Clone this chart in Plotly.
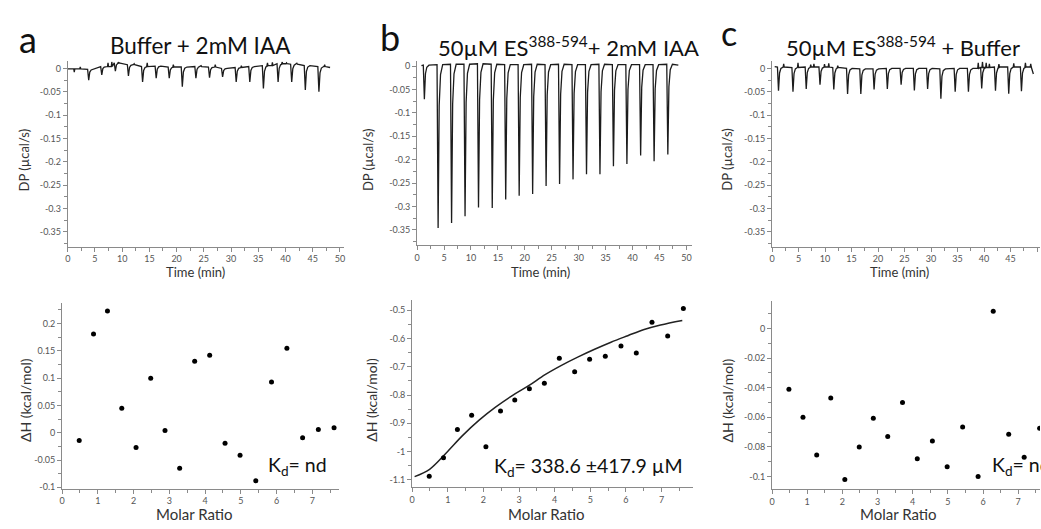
import plotly.graph_objects as go

W, H = 1041, 529
FONT = "Lato"

# ---------------- Data ----------------
# Thermogram a: Buffer + 2mM IAA
inj_a_time = [3.7, 6.1, 8.6, 11.0, 13.6, 16.1, 18.5, 20.9, 23.4, 25.9, 28.3, 30.8, 33.3, 35.8, 38.5, 41.0, 43.5, 46.0]
inj_a_depth = [-0.025, -0.014, -0.006, -0.016, -0.029, -0.021, -0.021, -0.039, -0.021, -0.020, -0.018, -0.029, -0.029, -0.043, -0.029, -0.029, -0.046, -0.050]
inj_a_base = [-0.002, 0.004, 0.012, 0.008, 0.004, 0.005, 0.003, 0.003, 0.004, 0.003, 0.000, 0.002, 0.004, 0.006, 0.010, 0.009, 0.006, 0.004]
noise_a_time = [1.2, 2.3, 7.4, 8.1, 9.3, 12.2, 14.6, 19.4, 24.5, 27.1, 31.9, 36.7, 37.6, 39.4, 40.2, 42.1, 47.2]
noise_a_val = [-0.008, 0.003, 0.012, 0.014, 0.013, 0.010, 0.012, 0.008, 0.006, 0.008, 0.006, 0.012, 0.013, 0.014, 0.012, 0.011, 0.008]
run_a = [0.0, 48.2]
run_a_base = [-0.001, 0.002]

# Thermogram b: 50uM ES + 2mM IAA
inj_b_time = [1.2, 3.75, 6.25, 8.75, 11.25, 13.8, 16.3, 18.8, 21.3, 23.8, 26.3, 28.8, 31.3, 33.8, 36.3, 38.8, 41.35, 43.85, 46.4]
inj_b_depth = [-0.071, -0.346, -0.335, -0.321, -0.302, -0.303, -0.285, -0.277, -0.273, -0.256, -0.252, -0.242, -0.231, -0.231, -0.214, -0.209, -0.191, -0.203, -0.189]
inj_b_base = [0.002, 0.003, 0.004, 0.004, 0.005, 0.004, 0.003, 0.003, 0.004, 0.003, 0.004, 0.003, 0.003, 0.004, 0.003, 0.003, 0.003, 0.003, 0.004]
run_b = [0.8, 48.5]
run_b_base = [0.001, 0.002]

# Thermogram c: 50uM ES + Buffer
inj_c_time = [1.07, 3.8, 6.3, 8.9, 11.5, 14.1, 16.6, 19.1, 21.6, 24.2, 26.7, 29.2, 31.7, 34.4, 36.9, 39.4, 42.0, 44.5, 46.9]
inj_c_depth = [-0.048, -0.050, -0.044, -0.035, -0.045, -0.055, -0.055, -0.045, -0.044, -0.035, -0.047, -0.044, -0.065, -0.050, -0.050, -0.043, -0.048, -0.054, -0.049]
inj_c_base = [0.003, 0.002, 0.003, 0.003, 0.002, 0.0, -0.001, -0.001, 0.0, 0.0, 0.0, 0.0, -0.001, 0.0, 0.0, 0.002, 0.003, 0.003, 0.003]
noise_c_time = [2.2, 4.9, 7.3, 7.9, 9.9, 10.7, 12.4, 38.9, 39.7, 40.4, 41.0, 42.8, 45.6, 47.8, 48.8]
noise_c_val = [0.010, 0.012, 0.008, 0.010, 0.009, 0.011, 0.006, 0.012, 0.014, 0.012, 0.010, 0.009, 0.011, 0.012, 0.010]
run_c = [0.5, 49.3]
run_c_base = [0.004, -0.012]

# Isotherms
molar_ratio = [0.48, 0.88, 1.27, 1.67, 2.07, 2.48, 2.88, 3.29, 3.71, 4.13, 4.56, 4.98, 5.42, 5.86, 6.29, 6.73, 7.17, 7.61]
dh_a = [-0.014, 0.181, 0.223, 0.045, -0.027, 0.100, 0.004, -0.065, 0.131, 0.142, -0.019, -0.041, -0.088, 0.093, 0.155, -0.009, 0.006, 0.009]
dh_b = [-1.088, -1.022, -0.922, -0.872, -0.983, -0.857, -0.818, -0.778, -0.758, -0.670, -0.718, -0.673, -0.663, -0.626, -0.651, -0.542, -0.591, -0.494]
dh_c = [-0.041, -0.060, -0.0855, -0.047, -0.102, -0.080, -0.0607, -0.073, -0.050, -0.088, -0.076, -0.0935, -0.0665, -0.100, 0.0118, -0.0714, -0.087, -0.0674]
fit_x = [0.07, 0.49, 0.95, 1.42, 1.88, 2.34, 2.81, 3.27, 3.73, 4.19, 4.66, 5.12, 5.58, 6.05, 6.51, 6.97, 7.58]
fit_y = [-1.089, -1.063, -1.006, -0.943, -0.889, -0.843, -0.802, -0.767, -0.728, -0.695, -0.665, -0.638, -0.613, -0.590, -0.568, -0.552, -0.536]

dp_ticks = [0, -0.05, -0.1, -0.15, -0.2, -0.25, -0.3, -0.35]
dp_text = ["0", "-0.05", "-0.1", "-0.15", "-0.2", "-0.25", "-0.3", "-0.35"]
dha_ticks = [0.2, 0.15, 0.1, 0.05, 0, -0.05, -0.1]
dha_text = ["0.2", "0.15", "0.1", "0.05", "0", "-0.05", "-0.1"]
dhb_ticks = [-0.5, -0.6, -0.7, -0.8, -0.9, -1.0, -1.1]
dhb_text = ["-0.5", "-0.6", "-0.7", "-0.8", "-0.9", "-1", "-1.1"]
dhc_ticks = [0, -0.02, -0.04, -0.06, -0.08, -0.1]
dhc_text = ["0", "-0.02", "-0.04", "-0.06", "-0.08", "-0.1"]


def thermogram(times, depths, bases, run, run_base, extra_t=(), extra_v=()):
    events = [(t, d, b, True) for t, d, b in zip(times, depths, bases)]
    events += [(t, v, None, False) for t, v in zip(extra_t, extra_v)]
    events.sort(key=lambda e: e[0])
    xs, ys = [run[0]], [run_base[0]]
    last_b = run_base[0]
    for t, d, b, is_inj in events:
        if is_inj:
            xs += [t - 0.05, t + 0.15, t + 0.35, t + 0.6, t + 1.0]
            ys += [b, d, b + 0.25 * (d - b), b + 0.06 * (d - b), b]
            last_b = b
        else:
            xs += [t - 0.1, t, t + 0.1]
            ys += [last_b, d, last_b]
    xs.append(run[1])
    ys.append(run_base[1])
    return xs, ys


def px(p):
    return p / W


def py(p):
    return 1 - p / H


fig = go.Figure()
LINE = "#1c1c1c"

xa, ya = thermogram(inj_a_time, inj_a_depth, inj_a_base, run_a, run_a_base, noise_a_time, noise_a_val)
xb, yb = thermogram(inj_b_time, inj_b_depth, inj_b_base, run_b, run_b_base)
xc, yc = thermogram(inj_c_time, inj_c_depth, inj_c_base, run_c, run_c_base, noise_c_time, noise_c_val)

fig.add_trace(go.Scatter(x=xa, y=ya, mode="lines", line=dict(color=LINE, width=1.3), xaxis="x", yaxis="y", showlegend=False))
fig.add_trace(go.Scatter(x=xb, y=yb, mode="lines", line=dict(color=LINE, width=1.3), xaxis="x2", yaxis="y2", showlegend=False))
fig.add_trace(go.Scatter(x=xc, y=yc, mode="lines", line=dict(color=LINE, width=1.3), xaxis="x3", yaxis="y3", showlegend=False))

mk = dict(color="black", size=5)
fig.add_trace(go.Scatter(x=molar_ratio, y=dh_a, mode="markers", marker=mk, xaxis="x4", yaxis="y4", showlegend=False))
fig.add_trace(go.Scatter(x=fit_x, y=fit_y, mode="lines", line=dict(color="#222", width=1.5, shape="spline"), xaxis="x5", yaxis="y5", showlegend=False))
fig.add_trace(go.Scatter(x=molar_ratio, y=dh_b, mode="markers", marker=mk, xaxis="x5", yaxis="y5", showlegend=False))
fig.add_trace(go.Scatter(x=molar_ratio, y=dh_c, mode="markers", marker=mk, xaxis="x6", yaxis="y6", showlegend=False))

AXC = "#8a8a8a"
TF = dict(family=FONT, size=9, color="#555")


def xaxis(dom, rng, dtick, mdtick, anchor):
    return dict(domain=dom, range=rng, anchor=anchor, showline=True, linecolor=AXC, linewidth=1,
                ticks="outside", ticklen=4, tickcolor=AXC, tickwidth=1, dtick=dtick, tick0=0,
                tickfont=TF, showgrid=False, zeroline=False,
                minor=dict(ticks="outside", ticklen=3, dtick=mdtick, tick0=0, tickcolor=AXC, showgrid=False))


def yaxis(dom, rng, tv, tt, mdtick, anchor):
    return dict(domain=dom, range=rng, anchor=anchor, showline=True, linecolor=AXC, linewidth=1,
                ticks="outside", ticklen=4, tickcolor=AXC, tickwidth=1, tickmode="array",
                tickvals=tv, ticktext=tt, tickfont=TF, showgrid=False, zeroline=False,
                minor=dict(ticks="outside", ticklen=3, dtick=mdtick, tick0=0, tickcolor=AXC, showgrid=False))


layout = dict(
    width=W, height=H, autosize=False,
    margin=dict(l=0, r=0, t=0, b=0),
    paper_bgcolor="white", plot_bgcolor="white",
    font=dict(family=FONT, color="#333"),
    xaxis=xaxis([px(65), px(342)], [0, 50.7], 5, 2.5, "y"),
    yaxis=yaxis([py(248), py(61)], [-0.382, 0.015], dp_ticks, dp_text, 0.025, "x"),
    xaxis2=xaxis([px(415.7), px(692)], [0, 51.1], 5, 2.5, "y2"),
    yaxis2=yaxis([py(246.7), py(61)], [-0.383, 0.01], dp_ticks, dp_text, 0.025, "x2"),
    xaxis3=xaxis([px(772), 1.0], [0, 50.55], 5, 2.5, "y3"),
    yaxis3=yaxis([py(248), py(61)], [-0.382, 0.015], dp_ticks, dp_text, 0.025, "x3"),
    xaxis4=xaxis([px(59.3), px(337)], [0, 7.74], 1, 0.5, "y4"),
    yaxis4=yaxis([py(492.3), py(305)], [-0.1024, 0.2376], dha_ticks, dha_text, 0.025, "x4"),
    xaxis5=xaxis([px(410.7), px(693)], [0, 7.89], 1, 0.5, "y5"),
    yaxis5=yaxis([py(490.7), py(301.7)], [-1.126, -0.463], dhb_ticks, dhb_text, 0.05, "x5"),
    xaxis6=xaxis([px(772), 1.0], [0, 7.62], 1, 0.5, "y6"),
    yaxis6=yaxis([py(492.7), py(303.3)], [-0.1085, 0.0184], dhc_ticks, dhc_text, 0.01, "x6"),
)
fig.update_layout(**layout)


def ann(text, x, y, size, color="#222", angle=0, xanchor="center", yanchor="middle"):
    fig.add_annotation(text=text, x=px(x), y=py(y), xref="paper", yref="paper", showarrow=False,
                       font=dict(family=FONT, size=size, color=color), textangle=angle,
                       xanchor=xanchor, yanchor=yanchor)


# panel letters
ann("a", 25, 38, 36, "#111")
ann("b", 388, 36, 36, "#111")
ann("c", 729, 32, 34, "#111")
# titles
ann("Buffer + 2mM IAA", 198, 45, 22.5, "#111")
ann("50µM ES<sup>388-594</sup>+ 2mM IAA", 568, 46, 22, "#111")
ann("50µM ES<sup>388-594</sup> + Buffer", 903, 46, 22, "#111")
# axis titles
for xx in (22, 367, 727):
    ann("DP (µcal/s)", xx, 160, 13, "#333", angle=-90)
for xx in (193, 540, 900):
    ann("Time (min)", xx, 274, 13, "#333")
for xx in (22, 370, 727):
    ann("ΔH (kcal/mol)", xx, 403, 14, "#333", angle=-90)
for xx in (192, 546, 899):
    ann("Molar Ratio", xx, 518, 15, "#333")
# Kd labels
ann("K<sub>d</sub>= nd", 296, 469, 19.5, "#111")
ann("K<sub>d</sub>= 338.6 ±417.9 µM", 588, 470, 19.5, "#111")
ann("K<sub>d</sub>= nd", 991, 469, 19.5, "#111", xanchor="left")

fig.write_html("out.html", config={"displayModeBar": False},
               post_script="document.body.style.margin='0';document.body.style.overflow='hidden';")
